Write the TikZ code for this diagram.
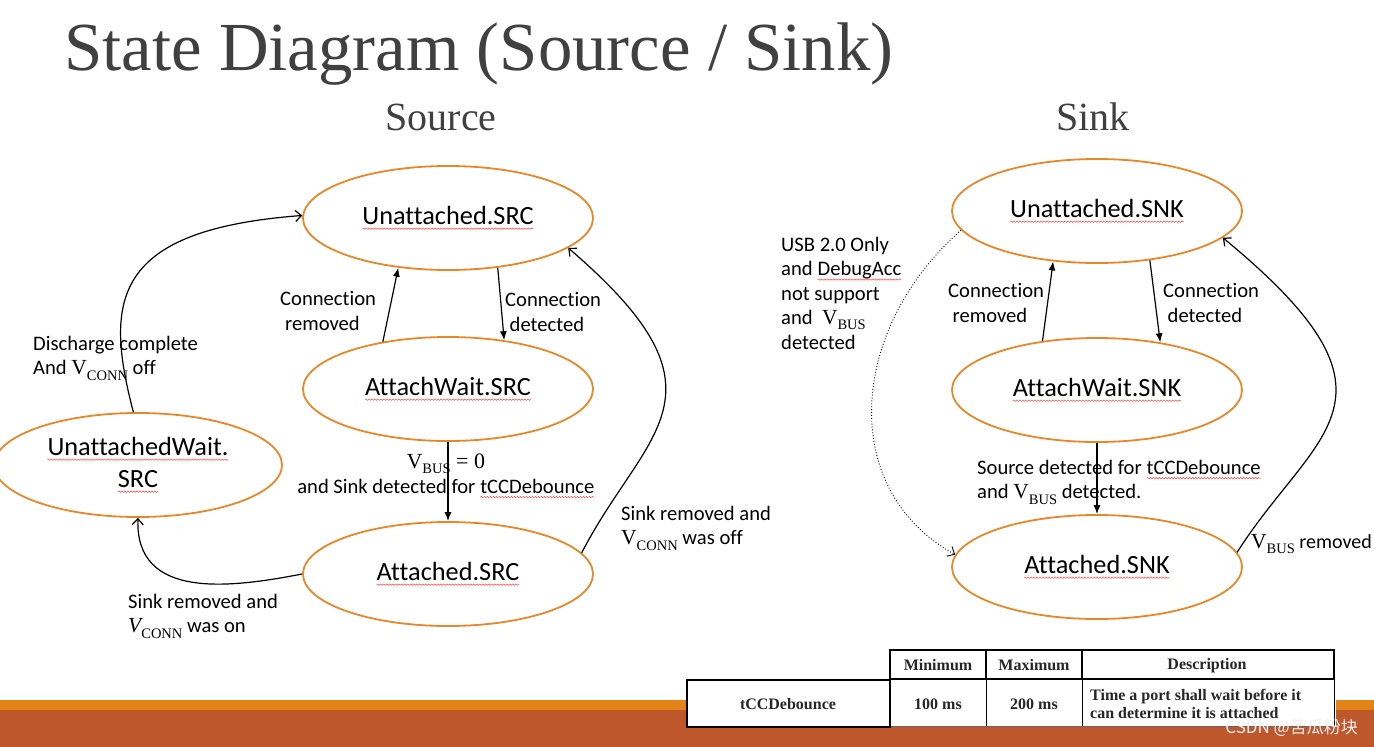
\documentclass[tikz,border=0pt]{standalone}
\usepackage{fontspec}
\setmainfont{Carlito}[Ligatures=CommonOff]
\newfontfamily\serifV{Liberation Serif}
\newfontfamily\titlefont{Liberation Serif}
\newfontfamily\cjkfont{Noto Sans CJK SC}
\usetikzlibrary{shapes.geometric,arrows.meta,decorations.pathmorphing}
\definecolor{orng}{RGB}{232,135,40}
\definecolor{bandor}{RGB}{227,130,23}
\definecolor{bandbr}{RGB}{190,88,44}
\definecolor{ttl}{RGB}{64,64,64}
\tikzset{
  state/.style={ellipse, draw=orng, line width=1.8pt, minimum width=290pt, minimum height=104pt,
    inner sep=0pt, font=\fontsize{26.3}{32}\selectfont, align=center},
  lbl/.style={font=\fontsize{20.6}{24.5}\selectfont, inner sep=0pt, align=left},
  tr/.style={-{Latex[length=9pt,width=7pt]}, line width=1.2pt},
  cv/.style={-{Straight Barb[length=6pt,width=11pt]}, line width=1.2pt},
  sqtext/.style={rectangle, draw=none, fill=none, inner sep=0pt, outer sep=0pt,
    minimum width=0pt, minimum height=0pt, anchor=base},
  sqline/.style={draw=red!75, line width=0.5pt, decorate,
    decoration={snake, amplitude=0.7pt, segment length=3pt}},
  thk/.style={line width=2.6pt},
  thn/.style={line width=0.9pt},
  tabtxt/.style={font=\serifV\bfseries\fontsize{16}{18}\selectfont, inner sep=0pt, text=black!85}
}
\newcommand\sq[1]{\tikz[baseline=(sqw.base)]{\node[sqtext](sqw){#1};\draw[sqline]([yshift=-4pt]sqw.base west)--([yshift=-4pt]sqw.base east);}}
\newcommand\VV[2][\upshape]{{\serifV\fontsize{21.5}{21.5}\selectfont#1V}\raisebox{-0.26em}{\serifV\fontsize{14.5}{14.5}\selectfont #2}}
\begin{document}
\begin{tikzpicture}[x=1pt,y=-1pt]
\useasboundingbox (0,0) rectangle (1374,747);
\clip (0,0) rectangle (1374,747);

% bottom bands
\fill[bandor] (0,700) rectangle (1374,710);
\fill[bandbr] (0,710) rectangle (1374,747);

% titles
\node[anchor=base west, inner sep=0pt, font=\titlefont\fontsize{68.8}{68.8}\selectfont, text=ttl] (title) at (64,70) {State Diagram (Source / Sink)};
\node[anchor=base, inner sep=0pt, font=\titlefont\fontsize{40}{40}\selectfont, text=ttl] (hsrc) at (441,130) {Source};
\node[anchor=base, inner sep=0pt, font=\titlefont\fontsize{40}{40}\selectfont, text=ttl] (hsnk) at (1093,130) {Sink};

% source states
\node[state] (usrc) at (448,218) {\sq{Unattached.SRC}};
\node[state] (awsrc) at (448,389) {\sq{AttachWait.SRC}};
\node[state] (asrc) at (448,574) {\sq{Attached.SRC}};
\node[state, minimum width=288pt] (uwsrc) at (138,465) {\sq{UnattachedWait.}\\\sq{SRC}};

% sink states
\node[state] (usnk) at (1097,211) {\sq{Unattached.SNK}};
\node[state] (awsnk) at (1097,390) {\sq{AttachWait.SNK}};
\node[state] (asnk) at (1097,567) {\sq{Attached.SNK}};

% source connectors
\draw[tr] (usrc.-45) -- (awsrc.41);
\draw[tr] (awsrc.144) -- (usrc.225);
\draw[tr] (awsrc.south) -- (asrc.north);
\draw[cv] (asrc.west) .. controls (230,588) and (135,600) .. (uwsrc.south);
\draw[cv] (uwsrc.95) .. controls (104,300) and (112,230) .. (usrc.179);
\draw[cv] (asrc.9) .. controls (645,430) and (740,395) .. (usrc.-14);

% sink connectors
\draw[tr] (usnk.-43) -- (awsnk.37);
\draw[tr] (awsnk.138) -- (usnk.229);
\draw[tr] (awsnk.south) -- (asnk.north);
\draw[cv, line width=0.9pt, dotted] (usnk.188) .. controls (848,330) and (838,490) .. (asnk.175);
\draw[cv] (asnk.6) .. controls (1315,430) and (1420,400) .. (usnk.-12);

% source labels
\node[lbl, anchor=west] (lcr) at (280,311) {Connection\\\hspace{5pt}removed};
\node[lbl, anchor=west] (lcd) at (505,312) {Connection\\\hspace{4.5pt}detected};
\node[lbl, anchor=west] (ldis) at (33,358) {Discharge complete\\And \VV{CONN} off};
\node[lbl, align=center] (lvb) at (446,476) {\VV{BUS}{\serifV\fontsize{22}{22}\selectfont\ = 0}\\and Sink detected for \sq{tCCDebounce}};
\node[lbl, anchor=west] (lsoff) at (621,528) {Sink removed and\\\VV{CONN} was off};
\node[lbl, anchor=west] (lson) at (128,616) {Sink removed and\\\VV[\itshape]{CONN} was on};

% sink labels
\node[lbl, anchor=west] (lusb) at (781,293) {USB 2.0 Only\\and \sq{DebugAcc}\\not support\\and~ \VV{BUS}\\detected};
\node[lbl, anchor=west] (lscr) at (948,303) {Connection\\\hspace{4.5pt}removed};
\node[lbl, anchor=west] (lscd) at (1163,303) {Connection\\\hspace{4.5pt}detected};
\node[lbl, anchor=west] (lsd) at (977,482) {Source detected for \sq{tCCDebounce}\\and \VV{BUS} detected.};
\node[lbl, anchor=west, font=\fontsize{20}{24}\selectfont] (lvr) at (1251,544) {\VV{BUS} removed};

% table
\fill[white] (686,679) rectangle (1336,727);
\fill[white] (890,650) rectangle (1336,679);
\draw[thn] (986,679) -- (986,727);
\draw[thn] (1082,679) -- (1082,727);
\draw[thn] (1334,679) -- (1334,727);
\draw[thn, black!60] (890,726) -- (1334,726);
\draw[thk] (890,650) rectangle (1334,679);
\draw[line width=2pt] (986,650) -- (986,679);
\draw[line width=2pt] (1082,650) -- (1082,679);
\draw[thk] (687,680) rectangle (890,727);
\node[tabtxt] (tmin) at (938,665) {Minimum};
\node[tabtxt] (tmax) at (1034,665) {Maximum};
\node[tabtxt] (tdesc) at (1207,666) {Description};
\node[tabtxt] (tname) at (788,704) {tCCDebounce};
\node[tabtxt] (t100) at (938,704) {100 ms};
\node[tabtxt] (t200) at (1034,704) {200 ms};
\node[tabtxt, anchor=west, align=left] (ttext) at (1090,704) {Time a port shall wait before it\\can determine it is attached};

% watermark
\node[anchor=east, inner sep=0pt, font=\cjkfont\fontsize{17}{17}\selectfont, text=white!88!gray] (wm) at (1358,728) {CSDN @苦瓜粉块};
\end{tikzpicture}
\end{document}
